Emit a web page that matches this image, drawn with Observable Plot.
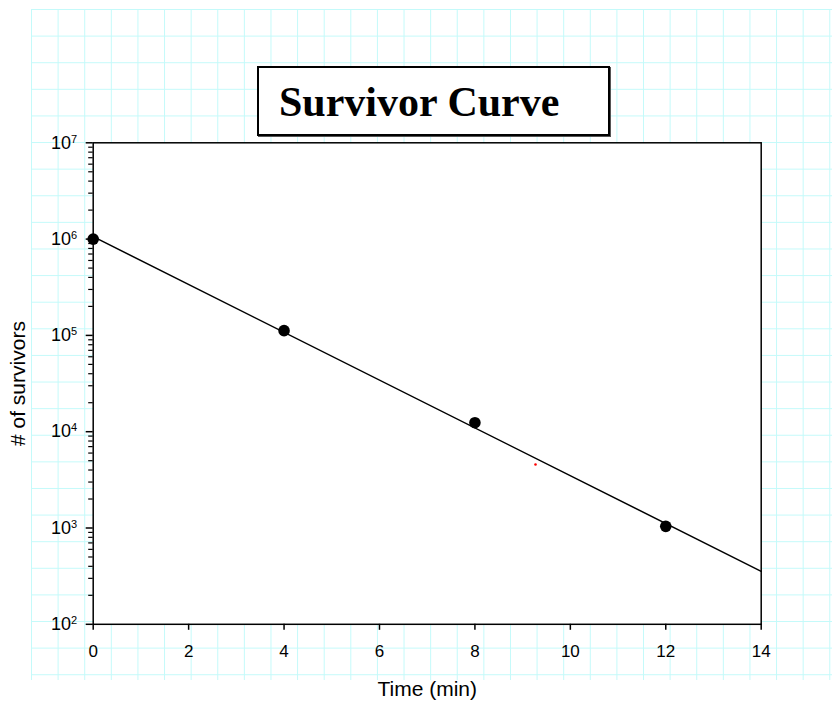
<!DOCTYPE html>
<html>
<head>
<meta charset="utf-8">
<script src="https://cdn.jsdelivr.net/npm/d3@7"></script>
<script src="https://cdn.jsdelivr.net/npm/@observablehq/plot@0.6"></script>
<style>
  html, body { margin: 0; padding: 0; background: white; }
  #wrap { position: relative; width: 832px; height: 702px; overflow: hidden; font-family: "Liberation Sans", Arial, sans-serif; }
  #paper {
    position: absolute; left: 31px; top: 9px; width: 801px; height: 671px;
    background-image:
      linear-gradient(to right, #c4fafa 1.4px, transparent 1.4px),
      linear-gradient(to bottom, #c4fafa 1.4px, transparent 1.4px);
    background-size: 26.62px 26.62px;
  }
  #chart { position: absolute; left: 0; top: 0; }
  #title {
    position: absolute; left: 257px; top: 66px; width: 329px; height: 66px;
    border: 2px solid #000; background: #fff; padding-left: 20px;
    box-shadow: 1px 1px 0 #555;
    font-family: "Liberation Serif", "Times New Roman", serif; font-weight: bold; font-size: 42px;
    line-height: 69px; white-space: nowrap; color: #000;
  }
  #chart g[aria-label="x-axis tick label"] text { font-size: 17px; }
  #chart g[aria-label="y-axis tick label"] text { font-size: 18px; }
  #chart g[aria-label="y-axis tick label"] text tspan { font-size: 11px; }
</style>
</head>
<body>
<div id="wrap">
  <div id="paper"></div>
  <div id="chart"></div>
  <div id="title">Survivor Curve</div>
</div>
<script>
// measured survivors
const times = [0, 4, 8, 12];
const survivors = [1.0e6, 1.12e5, 1.24e4, 1.04e3];
// fitted line endpoints
const fitTimes = [0, 14];
const fitSurvivors = [1.06e6, 3.55e2];
// stray red point
const strayTimes = [9.27];
const straySurvivors = [4.56e3];
// ticks
const xTicks = [0, 2, 4, 6, 8, 10, 12, 14];
const yMajor = [1e2, 1e3, 1e4, 1e5, 1e6, 1e7];
const yMinor = [];
for (let e = 2; e < 7; e++) for (let m = 2; m <= 9; m++) yMinor.push(m * Math.pow(10, e));
const xLabel = "Time (min)";
const yLabel = "# of survivors";

const pts = times.map((t, i) => ({t, n: survivors[i]}));
const fit = fitTimes.map((t, i) => ({t, n: fitSurvivors[i]}));
const stray = strayTimes.map((t, i) => ({t, n: straySurvivors[i]}));

const svg = Plot.plot({
  width: 832,
  height: 702,
  marginLeft: 92.7,
  marginRight: 71.3,
  marginTop: 142.3,
  marginBottom: 78.2,
  style: {background: "transparent", fontFamily: "Liberation Sans, Arial, sans-serif", color: "#000"},
  x: {domain: [0, 14]},
  y: {type: "log", domain: [1e2, 1e7]},
  marks: [
    Plot.frame({fill: "white", stroke: "black", strokeWidth: 1.5}),
    Plot.axisX({ticks: xTicks, tickSize: 6, tickPadding: 15, fontSize: 17, label: null, tickFormat: d => String(d), strokeWidth: 1.5}),
    Plot.axisY({ticks: yMinor, tickSize: 4.5, tickFormat: () => "", label: null, strokeWidth: 1.2}),
    Plot.axisY({ticks: yMajor, tickSize: 7, tickPadding: 9, fontSize: 18, label: null, strokeWidth: 1.5,
      tickFormat: d => "10^" + Math.round(Math.log10(d))}),
    Plot.line(fit, {x: "t", y: "n", stroke: "black", strokeWidth: 1.5}),
    Plot.dot(pts, {x: "t", y: "n", r: 5.8, fill: "black", stroke: "none"}),
    Plot.dot(stray, {x: "t", y: "n", r: 1.3, fill: "red", stroke: "none"}),
    Plot.text([xLabel], {frameAnchor: "bottom", text: d => d, dy: 65, textAnchor: "middle", lineAnchor: "middle", fontSize: 21, fill: "black"}),
    Plot.text([yLabel], {frameAnchor: "left", text: d => d, dx: -74.7, rotate: -90, textAnchor: "middle", lineAnchor: "middle", fontSize: 21, fill: "black"})
  ]
});

// render superscripts on y tick labels
svg.querySelectorAll("text").forEach(t => {
  const s = t.textContent;
  const m = /^10\^(\d+)$/.exec(s);
  if (m) {
    t.textContent = "10";
    const sup = document.createElementNS("http://www.w3.org/2000/svg", "tspan");
    sup.setAttribute("font-size", "11");
    sup.setAttribute("dy", "-6");
    sup.textContent = m[1];
    t.appendChild(sup);
  }
});

document.getElementById("chart").appendChild(svg);
</script>
</body>
</html>
